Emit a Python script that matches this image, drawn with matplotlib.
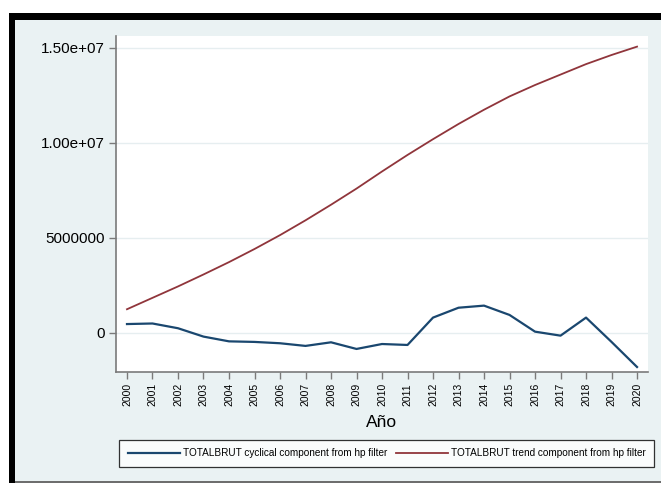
import matplotlib
matplotlib.use("Agg")
import matplotlib.pyplot as plt
from matplotlib.patches import Rectangle
import numpy as np

plt.rcParams['font.family'] = ['Liberation Sans', 'DejaVu Sans']

# Data
years = list(range(2000, 2021))
cyclical = [0.47e6, 0.50e6, 0.25e6, -0.19e6, -0.44e6, -0.47e6, -0.54e6, -0.68e6,
            -0.49e6, -0.84e6, -0.58e6, -0.63e6, 0.81e6, 1.33e6, 1.44e6, 0.95e6,
            0.07e6, -0.14e6, 0.81e6, -0.47e6, -1.79e6]
trend = [1.25e6, 1.85e6, 2.45e6, 3.08e6, 3.73e6, 4.42e6, 5.15e6, 5.93e6,
         6.75e6, 7.60e6, 8.50e6, 9.37e6, 10.20e6, 11.00e6, 11.75e6, 12.45e6,
         13.05e6, 13.60e6, 14.15e6, 14.63e6, 15.07e6]
ytick_vals = [0, 5000000, 10000000, 15000000]
ytick_labels = ['0', '5000000', '1.00e+07', '1.50e+07']
labels = ['TOTALBRUT cyclical component from hp filter',
          'TOTALBRUT trend component from hp filter']

W, H = 661, 483
fig = plt.figure(figsize=(W / 100, H / 100), dpi=100)
fig.patch.set_facecolor('white')

# black frame + light Stata background (screenshot look)
def px_rect(x0, y0, x1, y1, color):
    fig.add_artist(Rectangle((x0 / W, 1 - y1 / H), (x1 - x0) / W, (y1 - y0) / H,
                             transform=fig.transFigure, facecolor=color,
                             edgecolor='none', zorder=-10))

px_rect(9, 13, W + 5, H + 5, 'black')
px_rect(15, 20, W + 5, 481, '#eaf2f3')
px_rect(15, 481, W + 5, H + 5, '#6e6e6e')

# plot region
ax = fig.add_axes([116 / W, (H - 372) / H, (648 - 116) / W, (372 - 36) / H])
ax.set_facecolor('white')

ax.plot(years, cyclical, color='#1a476f', lw=1.6, label=labels[0])
ax.plot(years, trend, color='#90353b', lw=1.3, label=labels[1])

ax.set_xlim(1999.569, 2020.43)
ax.set_ylim(-2.053e6, 15.63e6)

ax.set_yticks(ytick_vals)
ax.set_yticklabels(ytick_labels, fontsize=11)
ax.set_xticks(years)
ax.set_xticklabels([str(y) for y in years], rotation=90, fontsize=7.5)

for y in ytick_vals:
    ax.axhline(y, color='#e6eef0', lw=1.0, zorder=0)

for side in ['top', 'right']:
    ax.spines[side].set_visible(False)
for side in ['left', 'bottom']:
    ax.spines[side].set_color('#7a7a7a')
    ax.spines[side].set_linewidth(1.2)
ax.tick_params(axis='both', colors='#7a7a7a', labelcolor='black', length=5, width=1)
ax.tick_params(axis='y', pad=3)
ax.tick_params(axis='x', pad=3)

ax.set_xlabel('Año', fontsize=12.5, labelpad=6)

leg = fig.legend(loc='center', bbox_to_anchor=(386.5 / W, 1 - 453.5 / H), ncol=2,
                 fontsize=7.2, frameon=True, fancybox=False, handlelength=5.2,
                 handletextpad=0.3, columnspacing=0.9, borderpad=0.85,
                 borderaxespad=0)
leg.get_frame().set_edgecolor('black')
leg.get_frame().set_linewidth(0.9)

fig.savefig('out.png', dpi=100)
